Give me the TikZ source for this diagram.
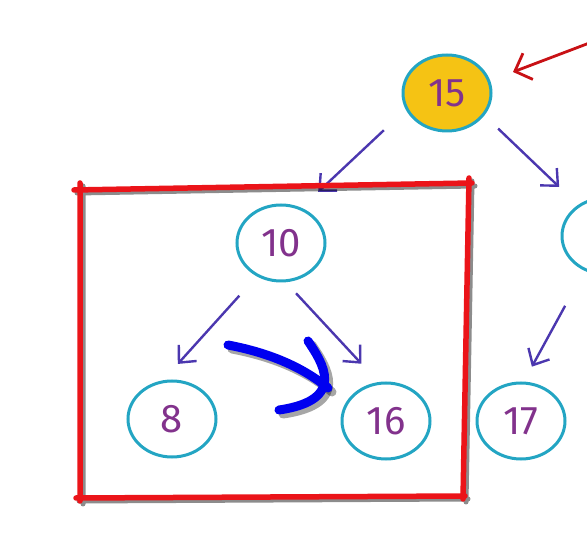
\documentclass[tikz,border=0pt]{standalone}
\usepackage{fontspec}
\setmainfont{Fira Sans}
\usetikzlibrary{arrows.meta,shapes.geometric}
\definecolor{ringc}{RGB}{35,165,195}
\definecolor{yelc}{RGB}{245,195,20}
\definecolor{numc}{RGB}{130,50,140}
\definecolor{arrc}{RGB}{75,55,175}
\definecolor{boxc}{RGB}{235,20,25}
\definecolor{penc}{RGB}{0,0,240}
\tikzset{
  nd/.style={draw=ringc, ellipse, line width=3pt, minimum width=88pt, minimum height=76pt,
    inner sep=0pt, text=numc, font=\fontsize{40}{44}\selectfont},
  arr/.style={-{Straight Barb[length=13pt, width=24pt]}, draw=arrc, line width=2.4pt},
  redarr/.style={-{Straight Barb[length=14pt, width=28pt]}, draw=boxc!85!black, line width=2.8pt},
  frame/.style={draw=boxc, line width=5.5pt, line cap=round, line join=round},
  shade/.style={draw=black, opacity=0.45, line width=5pt, line cap=round},
  pen/.style={draw=penc, line width=9pt, line cap=round, line join=round},
}
\begin{document}
\begin{tikzpicture}[x=1pt, y=-1pt]
\useasboundingbox (0,0) rectangle (587,537);
\clip (0,0) rectangle (587,537);

% tree nodes
\node[nd, fill=yelc] (n15) at (447,93) {15};
\node[nd] (n10) at (281,243) {10};
\node[nd] (n20) at (606,236) {};
\node[nd] (n8)  at (172,419) {8};
\node[nd] (n16) at (386,421) {16};
\node[nd] (n17) at (521,421) {17};

% edges
\draw[arr, shorten <=30pt, shorten >=23pt] (n15.202) -- (n10.60);
\draw[arr, shorten <=19pt, shorten >=26pt] (n15.329) -- (n20.132);
\draw[arr, shorten <=26pt, shorten >=22pt] (n10.234) -- (n8.103);
\draw[arr, shorten <=15pt, shorten >=25pt] (n10.277) -- (n16.101);
\draw[arr, shorten <=40pt, shorten >=17pt] (n20.238) -- (n17.86);

% pointer to the root
\coordinate (ptr) at (592,42);
\coordinate (ptrtip) at (513,72);
\draw[redarr] (ptr) -- (ptrtip);

% hand drawn frame round the subtree
\begin{scope}[shift={(3,3)}]
  \draw[shade] (74,190) -- (472,183) (469,178) -- (463,499) (465,496) -- (76,498) (80,183) -- (80,501);
\end{scope}
\draw[frame] (74,190) -- (472,183) (469,178) -- (463,499) (465,496) -- (76,498) (80,183) -- (80,501);

% the blue stroke
\begin{scope}[shift={(4,4)}]
  \draw[shade, line width=9pt, opacity=0.35] (228,345) .. controls (265,352) and (300,365) .. (328,388);
  \draw[shade, line width=9pt, opacity=0.35] (308,341) .. controls (322,362) and (348,400) .. (279,410);
\end{scope}
\draw[pen] (228,345) .. controls (265,352) and (300,365) .. (328,388);
\draw[pen] (308,341) .. controls (322,362) and (348,400) .. (279,410);

\end{tikzpicture}
\end{document}
